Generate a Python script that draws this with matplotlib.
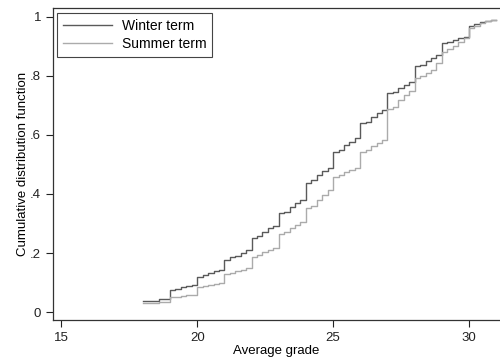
import matplotlib
matplotlib.use("Agg")
import matplotlib.pyplot as plt

# grade grid (step points) and CDF values
grades = [18.0, 18.2, 18.4, 18.6, 18.8,
          19.0, 19.2, 19.4, 19.6, 19.8,
          20.0, 20.2, 20.4, 20.6, 20.8,
          21.0, 21.2, 21.4, 21.6, 21.8,
          22.0, 22.2, 22.4, 22.6, 22.8,
          23.0, 23.2, 23.4, 23.6, 23.8,
          24.0, 24.2, 24.4, 24.6, 24.8,
          25.0, 25.2, 25.4, 25.6, 25.8,
          26.0, 26.2, 26.4, 26.6, 26.8,
          27.0, 27.2, 27.4, 27.6, 27.8,
          28.0, 28.2, 28.4, 28.6, 28.8,
          29.0, 29.2, 29.4, 29.6, 29.8,
          30.0, 30.2, 30.4, 30.6, 30.8,
          31.0]

winter = [0.038, 0.038, 0.038, 0.045, 0.045,
          0.075, 0.078, 0.085, 0.087, 0.090,
          0.120, 0.125, 0.131, 0.139, 0.142,
          0.178, 0.185, 0.190, 0.199, 0.210,
          0.250, 0.258, 0.272, 0.283, 0.290,
          0.335, 0.340, 0.357, 0.368, 0.380,
          0.436, 0.447, 0.464, 0.476, 0.487,
          0.543, 0.550, 0.566, 0.577, 0.589,
          0.640, 0.645, 0.662, 0.673, 0.685,
          0.741, 0.745, 0.758, 0.768, 0.780,
          0.832, 0.838, 0.849, 0.860, 0.871,
          0.910, 0.915, 0.922, 0.928, 0.933,
          0.967, 0.975, 0.981, 0.984, 0.990,
          0.990]

summer = [0.030, 0.030, 0.030, 0.034, 0.034,
          0.050, 0.052, 0.055, 0.057, 0.058,
          0.086, 0.089, 0.092, 0.095, 0.097,
          0.128, 0.133, 0.138, 0.143, 0.148,
          0.187, 0.193, 0.202, 0.210, 0.216,
          0.265, 0.272, 0.284, 0.295, 0.305,
          0.351, 0.360, 0.378, 0.395, 0.413,
          0.459, 0.465, 0.474, 0.482, 0.487,
          0.543, 0.550, 0.563, 0.574, 0.583,
          0.687, 0.695, 0.719, 0.736, 0.747,
          0.792, 0.798, 0.809, 0.820, 0.843,
          0.880, 0.890, 0.900, 0.915, 0.928,
          0.962, 0.970, 0.978, 0.984, 0.990,
          0.990]

xticks = [15, 20, 25, 30]
yticks = [0, 0.2, 0.4, 0.6, 0.8, 1]
ylabels = ["0", ".2", ".4", ".6", ".8", "1"]

plt.rcParams['font.family'] = ['Liberation Sans', 'DejaVu Sans']
fig = plt.figure(figsize=(5.0, 3.58), dpi=100)
ax = fig.add_axes([0.106, 0.106, 0.894, 0.872])

ax.plot(grades, winter, drawstyle='steps-post', color='#5a5a5a', lw=1.0, label='Winter term')
ax.plot(grades, summer, drawstyle='steps-post', color='#ababab', lw=1.0, label='Summer term')

ax.set_xlim(14.695, 31.14)
ax.set_ylim(-0.027, 1.03)
ax.set_xticks(xticks)
ax.set_yticks(yticks)
ax.set_yticklabels(ylabels)
ax.tick_params(direction='out', length=5, width=0.8, labelsize=9.5, colors='#222222')
ax.set_xlabel('Average grade', fontsize=9.5, labelpad=1)
ax.set_ylabel('Cumulative distribution function', fontsize=9.5, labelpad=1)
ax.spines['right'].set_visible(False)
for s in ['left', 'bottom', 'top']:
    ax.spines[s].set_color('#333333')
    ax.spines[s].set_linewidth(0.9)

leg = ax.legend(loc='upper left', bbox_to_anchor=(0.009, 0.985), fontsize=10,
                fancybox=False, framealpha=1, edgecolor='#444444',
                handlelength=3.5, handletextpad=0.7, borderpad=0.45,
                labelspacing=0.3, borderaxespad=0)
leg.get_frame().set_linewidth(0.8)

fig.savefig('out.png', dpi=100)
